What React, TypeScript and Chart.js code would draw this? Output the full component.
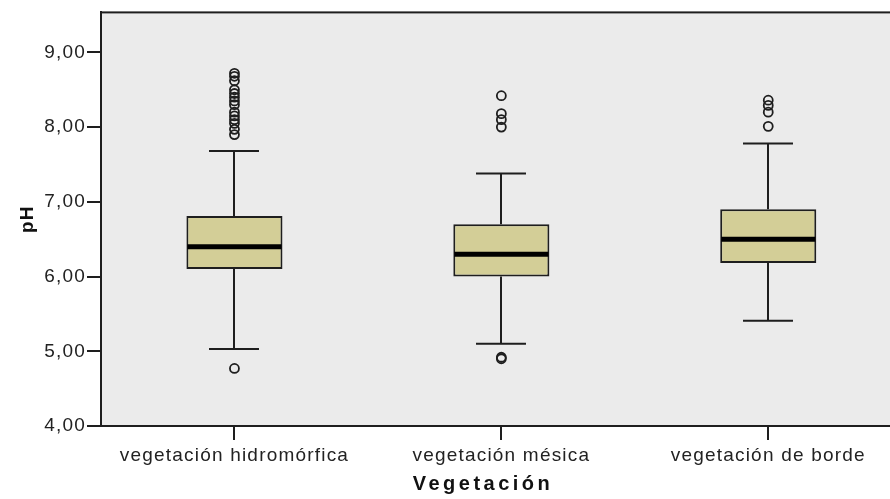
import React, { useEffect, useRef } from 'react';
import { Chart, registerables } from 'chart.js';

Chart.register(...registerables);

// ---- data ----
const categories = ['vegetación hidromórfica', 'vegetación mésica', 'vegetación de borde'];
const q1 = [6.1, 6.0, 6.18];
const q3 = [6.81, 6.7, 6.9];
const medians = [6.4, 6.3, 6.5];
const whiskerLow = [5.03, 5.1, 5.41];
const whiskerHigh = [7.68, 7.38, 7.78];
const outliersHidromorfica = [4.77, 7.9, 7.97, 8.05, 8.1, 8.15, 8.2, 8.3, 8.35, 8.4, 8.45, 8.5, 8.62, 8.68, 8.72];
const outliersMesica = [4.9, 4.92, 8.0, 8.1, 8.18, 8.42];
const outliersBorde = [8.01, 8.2, 8.29, 8.36];
const yTicks = [4, 5, 6, 7, 8, 9];
const yTickLabels = ['4,00', '5,00', '6,00', '7,00', '8,00', '9,00'];
const yMin = 4;
const yMax = 9.535;
const xTitle = 'Vegetación';
const yTitle = 'pH';

const FONT = "Arial, 'Liberation Sans', sans-serif";
const INK = '#1e1e1e';

const outlierPoints = [outliersHidromorfica, outliersMesica, outliersBorde].flatMap((arr, i) =>
  arr.map((v) => ({ x: categories[i], y: v }))
);

const framePlugin = {
  id: 'frame',
  beforeDraw(chart: any) {
    const { ctx, chartArea: a } = chart;
    ctx.save();
    ctx.fillStyle = '#ebebeb';
    ctx.fillRect(a.left, a.top, a.right - a.left, a.bottom - a.top);
    ctx.strokeStyle = INK;
    ctx.lineWidth = 2;
    ctx.strokeRect(a.left, a.top, a.right - a.left, a.bottom - a.top);
    ctx.restore();
    ctx.letterSpacing = '1.2px';
  },
};

const boxPartsPlugin = {
  id: 'boxParts',
  beforeDatasetsDraw(chart: any) {
    const { ctx } = chart;
    const y = chart.scales.y;
    const meta = chart.getDatasetMeta(0);
    ctx.save();
    ctx.strokeStyle = INK;
    ctx.lineWidth = 2;
    meta.data.forEach((bar: any, i: number) => {
      const x = Math.round(bar.x);
      const cap = bar.width * 0.26;
      ctx.beginPath();
      ctx.moveTo(x, y.getPixelForValue(q3[i]));
      ctx.lineTo(x, y.getPixelForValue(whiskerHigh[i]));
      ctx.moveTo(x, y.getPixelForValue(q1[i]));
      ctx.lineTo(x, y.getPixelForValue(whiskerLow[i]));
      ctx.moveTo(x - cap, y.getPixelForValue(whiskerHigh[i]));
      ctx.lineTo(x + cap, y.getPixelForValue(whiskerHigh[i]));
      ctx.moveTo(x - cap, y.getPixelForValue(whiskerLow[i]));
      ctx.lineTo(x + cap, y.getPixelForValue(whiskerLow[i]));
      ctx.stroke();
    });
    ctx.restore();
  },
  afterDatasetsDraw(chart: any) {
    const { ctx } = chart;
    const y = chart.scales.y;
    const meta = chart.getDatasetMeta(0);
    ctx.save();
    ctx.strokeStyle = '#000';
    ctx.lineWidth = 5;
    meta.data.forEach((bar: any, i: number) => {
      const half = bar.width / 2;
      const py = y.getPixelForValue(medians[i]);
      ctx.beginPath();
      ctx.moveTo(bar.x - half + 1, py);
      ctx.lineTo(bar.x + half - 1, py);
      ctx.stroke();
    });
    ctx.restore();
  },
  afterDraw(chart: any) {
    const { ctx } = chart;
    ctx.save();
    ctx.letterSpacing = '3.5px';
    ctx.font = `bold 20px ${FONT}`;
    ctx.fillStyle = '#111';
    ctx.textAlign = 'center';
    ctx.textBaseline = 'middle';
    ctx.fillText(xTitle, 483, 484);
    ctx.restore();
  },
};

export default function App() {
  const canvasRef = useRef<HTMLCanvasElement | null>(null);

  useEffect(() => {
    if (!canvasRef.current) return;
    const chart = new Chart(canvasRef.current, {
      type: 'bar',
      data: {
        labels: categories,
        datasets: [
          {
            type: 'bar',
            label: 'box',
            data: q1.map((v, i) => [v, q3[i]]),
            backgroundColor: 'rgb(211,206,151)',
            borderColor: INK,
            borderWidth: 2,
            borderSkipped: false,
            categoryPercentage: 1,
            barPercentage: 0.36,
          } as any,
          {
            type: 'line',
            label: 'outliers',
            data: outlierPoints as any,
            showLine: false,
            pointStyle: 'circle',
            pointRadius: 4.5,
            pointBorderWidth: 1.8,
            pointBorderColor: INK,
            pointBackgroundColor: 'rgba(0,0,0,0)',
          } as any,
        ],
      },
      options: {
        animation: false,
        responsive: false,
        devicePixelRatio: 1,
        layout: { padding: { left: 0, right: 0, top: 11, bottom: 0 } },
        plugins: { legend: { display: false }, tooltip: { enabled: false }, title: { display: false } },
        scales: {
          x: {
            type: 'category',
            afterFit(s: any) {
              s.height = 73;
            },
            ticks: { color: '#222', font: { size: 19, family: FONT }, padding: 4, maxRotation: 0, autoSkip: false },
            grid: { offset: false, drawOnChartArea: false, drawTicks: true, tickLength: 14, color: INK, lineWidth: 2 },
            border: { display: true, color: INK, width: 2 },
          },
          y: {
            type: 'linear',
            min: yMin,
            max: yMax,
            afterFit(s: any) {
              s.width = 101;
            },
            afterBuildTicks(s: any) {
              s.ticks = yTicks.map((v) => ({ value: v }));
            },
            ticks: {
              color: '#222',
              font: { size: 19, family: FONT },
              padding: 1,
              callback: (v: any) => yTickLabels[yTicks.indexOf(Number(v))],
            },
            grid: { drawOnChartArea: false, drawTicks: true, tickLength: 14, color: INK, lineWidth: 2 },
            border: { display: true, color: INK, width: 2 },
            title: {
              display: true,
              text: yTitle,
              color: '#111',
              font: { size: 19, weight: 'bold', family: FONT },
              padding: { top: 16, bottom: 0 },
            },
          },
        },
      } as any,
      plugins: [framePlugin, boxPartsPlugin],
    });
    return () => chart.destroy();
  }, []);

  return (
    <div style={{ position: 'fixed', left: 0, top: 0, width: 890, height: 499, overflow: 'hidden', background: '#fff' }}>
      <canvas ref={canvasRef} width={908} height={499} style={{ width: 908, height: 499, display: 'block' }} />
    </div>
  );
}
